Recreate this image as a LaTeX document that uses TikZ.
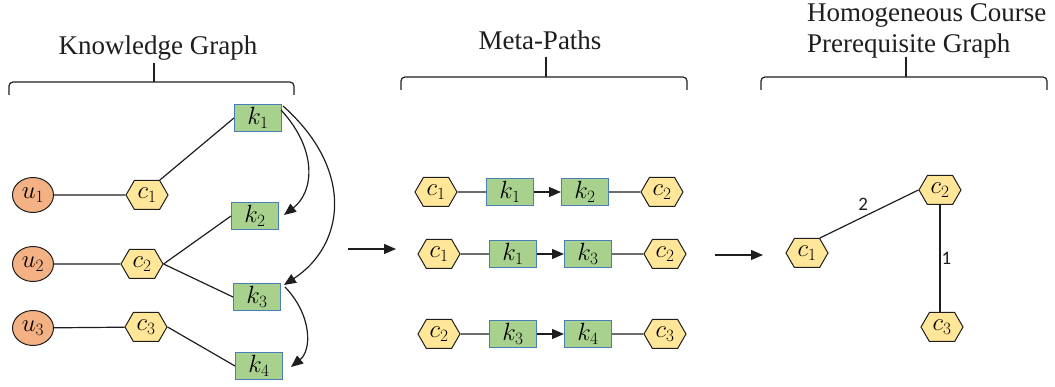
\documentclass[tikz,border=0pt]{standalone}
\usepackage{fontspec}
\setmainfont{Liberation Serif}
\newfontfamily\lblfont{Carlito}
\usetikzlibrary{shapes.symbols,shapes.geometric,arrows.meta}

\definecolor{userfill}{HTML}{F4B183}
\definecolor{coursefill}{HTML}{FFE699}
\definecolor{kfill}{HTML}{A9D18E}
\definecolor{kborder}{HTML}{4A7EBB}
\definecolor{ink}{HTML}{1E1E1E}

\newcommand{\mathsz}{\fontsize{27}{27}\selectfont}

\tikzset{
  title/.style={font=\fontsize{27}{31}\selectfont, inner sep=0pt, text=ink},
  brace/.style={draw=ink, line width=1.2pt, rounded corners=4pt},
  user/.style={ellipse, draw=ink, fill=userfill, line width=1pt,
    minimum width=41pt, minimum height=35pt, inner sep=0pt, font=\mathsz},
  course/.style={signal, signal to=west and east, signal pointer angle=120,
    draw=ink, fill=coursefill, line width=1pt,
    minimum width=42pt, minimum height=29pt, inner sep=0pt, font=\mathsz},
  concept/.style={rectangle, draw=kborder, fill=kfill, line width=1pt,
    minimum width=47pt, minimum height=27pt, inner sep=0pt, font=\mathsz},
  link/.style={draw=ink, line width=1.2pt},
  arr/.style={draw=ink, line width=1.2pt, -{Triangle[length=12pt,width=10pt]}},
  wlabel/.style={font=\lblfont\fontsize{19}{19}\selectfont, text=ink, inner sep=1pt}
}

\begin{document}
\begin{tikzpicture}[x=1pt,y=-1pt]
\useasboundingbox (0,0) rectangle (1055,387);

% ---------- section titles and braces ----------
\node[title, anchor=base] (kgtitle) at (158,55) {Knowledge Graph};
\node[title, anchor=base] (mptitle) at (540,50) {Meta-Paths};
\node[title, anchor=base west] (hgtitleA) at (807,22) {Homogeneous Course};
\node[title, anchor=base west] (hgtitleB) at (807,53) {Prerequisite Graph};

\draw[brace] (9,95) -- (9,82) -- (294,82) -- (294,95);
\draw[brace] (154,82) -- (154,63);
\draw[brace] (401,90) -- (401,77) -- (687,77) -- (687,90);
\draw[brace] (546,77) -- (546,57);
\draw[brace] (761,90) -- (761,77) -- (1047,77) -- (1047,90);
\draw[brace] (906,77) -- (906,57);

% ---------- knowledge graph ----------
\node[user] (u1) at (33,195) {$u_1$};
\node[user] (u2) at (33,264) {$u_2$};
\node[user] (u3) at (33,328) {$u_3$};

\node[course] (c1) at (147,195) {$c_1$};
\node[course] (c2) at (142,264) {$c_2$};
\node[course] (c3) at (146,327) {$c_3$};

\node[concept] (k1) at (258,118) {$k_1$};
\node[concept] (k2) at (255,216) {$k_2$};
\node[concept] (k3) at (257,297) {$k_3$};
\node[concept] (k4) at (259,366) {$k_4$};

\draw[link] (u1) -- (c1);
\draw[link] (u2) -- (c2);
\draw[link] (u3) -- (c3);
\draw[link] (c1.north east) -- (k1.west);
\draw[link] (c2.east) -- (k2.west);
\draw[link] (c2.east) -- (k3.west);
\draw[link] (c3.east) -- (k4.west);

\draw[arr] ([xshift=-1pt,yshift=-6pt]k1.north east) .. controls (318,150) and (314,192) .. ([xshift=5pt,yshift=1pt]k2.east);
\draw[arr] ([xshift=1pt,yshift=-2pt]k1.north east) .. controls (355,170) and (345,245) .. ([xshift=3pt,yshift=-2pt]k3.north east);
\draw[arr] ([xshift=4pt,yshift=-4pt]k3.north east) .. controls (312,315) and (312,350) .. ([xshift=8pt,yshift=-1pt]k4.east);

% ---------- arrows between sections ----------
\coordinate (s1a) at (348,249);
\coordinate (s1b) at (396,249);
\coordinate (s2a) at (715,255);
\coordinate (s2b) at (763,255);
\draw[arr] (s1a) -- (s1b);
\draw[arr] (s2a) -- (s2b);

% ---------- meta-paths ----------
\node[course]  (pa1) at (436,192) {$c_1$};
\node[concept] (pa2) at (510,192) {$k_1$};
\node[concept] (pa3) at (585,192) {$k_2$};
\node[course]  (pa4) at (662,192) {$c_2$};
\draw[link] (pa1) -- (pa2);
\draw[arr]  (pa2) -- (pa3);
\draw[link] (pa3) -- (pa4);

\node[course]  (pb1) at (439,254) {$c_1$};
\node[concept] (pb2) at (513,254) {$k_1$};
\node[concept] (pb3) at (588,254) {$k_3$};
\node[course]  (pb4) at (665,254) {$c_2$};
\draw[link] (pb1) -- (pb2);
\draw[arr]  (pb2) -- (pb3);
\draw[link] (pb3) -- (pb4);

\node[course]  (pc1) at (439,334) {$c_2$};
\node[concept] (pc2) at (513,334) {$k_3$};
\node[concept] (pc3) at (588,334) {$k_4$};
\node[course]  (pc4) at (665,334) {$c_3$};
\draw[link] (pc1) -- (pc2);
\draw[arr]  (pc2) -- (pc3);
\draw[link] (pc3) -- (pc4);

% ---------- course prerequisite graph ----------
\node[course] (h1) at (807,253) {$c_1$};
\node[course] (h2) at (940,190) {$c_2$};
\node[course] (h3) at (942,327) {$c_3$};
\draw[link] (h1.north east) -- node[wlabel, midway, above, xshift=-6pt, yshift=2pt] (w12) {2} (h2.west);
\draw[link] (h2.south) -- node[wlabel, midway, right] (w23) {1} (h2.south |- h3.north);
\end{tikzpicture}
\end{document}
